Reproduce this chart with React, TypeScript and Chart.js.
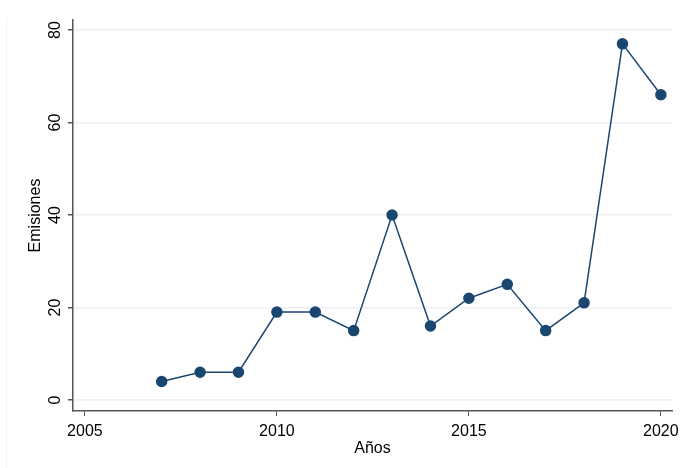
import React, { useEffect, useRef } from "react";
import { Chart, registerables } from "chart.js";

Chart.register(...registerables);

const years = [2007, 2008, 2009, 2010, 2011, 2012, 2013, 2014, 2015, 2016, 2017, 2018, 2019, 2020];
const emisiones = [4, 6, 6, 19, 19, 15, 40, 16, 22, 25, 15, 21, 77, 66];
const xTicks = [2005, 2010, 2015, 2020];
const yTicks = [0, 20, 40, 60, 80];
const xTitle = "Años";
const yTitle = "Emisiones";

const LINE = "#1a476f";
const FONT = "16px 'Liberation Sans', Arial, sans-serif";

const labelsPlugin = {
  id: "stataLabels",
  afterDraw(chart: any) {
    const ctx = chart.ctx;
    const xs = chart.scales.x;
    const ys = chart.scales.y;
    const area = chart.chartArea;
    ctx.save();
    // faint outer border
    ctx.strokeStyle = "#f3f3f3";
    ctx.lineWidth = 1;
    ctx.beginPath();
    ctx.moveTo(6.5, 17);
    ctx.lineTo(6.5, 468);
    ctx.stroke();

    ctx.fillStyle = "#000";
    ctx.font = FONT;
    // x tick labels
    ctx.textAlign = "center";
    ctx.textBaseline = "middle";
    xTicks.forEach((t) => {
      ctx.fillText(String(t), xs.getPixelForValue(t), 432);
    });
    // y tick labels rotated
    yTicks.forEach((t) => {
      const py = ys.getPixelForValue(t);
      ctx.save();
      ctx.translate(56, py);
      ctx.rotate(-Math.PI / 2);
      ctx.fillText(String(t), 0, 0);
      ctx.restore();
    });
    // axis titles
    ctx.fillText(xTitle, (area.left + area.right) / 2, 449);
    ctx.save();
    ctx.translate(36, (area.top + area.bottom) / 2);
    ctx.rotate(-Math.PI / 2);
    ctx.fillText(yTitle, 0, 0);
    ctx.restore();
    ctx.restore();
  },
};

export default function App() {
  const ref = useRef<HTMLCanvasElement | null>(null);
  useEffect(() => {
    if (!ref.current) return;
    const chart = new Chart(ref.current, {
      type: "line",
      data: {
        datasets: [
          {
            data: years.map((y, i) => ({ x: y, y: emisiones[i] })),
            borderColor: LINE,
            backgroundColor: LINE,
            borderWidth: 1.5,
            pointRadius: 5,
            pointBackgroundColor: LINE,
            pointBorderColor: LINE,
            tension: 0,
          },
        ],
      },
      options: {
        animation: false,
        responsive: false,
        maintainAspectRatio: false,
        layout: { padding: { left: 0, right: 14, top: 20, bottom: 0 } },
        plugins: { legend: { display: false }, tooltip: { enabled: false } },
        scales: {
          x: {
            type: "linear",
            min: 2004.69,
            max: 2020.29,
            afterFit: (s: any) => {
              s.height = 57;
            },
            afterBuildTicks: (s: any) => {
              s.ticks = xTicks.map((v) => ({ value: v }));
            },
            border: { display: true, color: "#555", width: 1.5 },
            grid: { drawOnChartArea: false, drawTicks: true, tickLength: 5, color: "#555", lineWidth: 1 },
            ticks: { color: "rgba(0,0,0,0)", font: { size: 16 } },
          },
          y: {
            type: "linear",
            min: -2.38,
            max: 82.16,
            afterFit: (s: any) => {
              s.width = 73;
            },
            afterBuildTicks: (s: any) => {
              s.ticks = yTicks.map((v) => ({ value: v }));
            },
            border: { display: true, color: "#555", width: 1.5 },
            grid: { drawOnChartArea: true, drawTicks: true, tickLength: 5, color: "#eaf0f3", tickColor: "#555", lineWidth: 1.5 },
            ticks: { color: "rgba(0,0,0,0)", font: { size: 16 } },
          },
        },
      },
      plugins: [labelsPlugin],
    });
    return () => chart.destroy();
  }, []);
  return (
    <div style={{ position: "fixed", left: 0, top: 0, width: 686, height: 468, background: "#fff" }}>
      <canvas ref={ref} width={686} height={468} style={{ width: 686, height: 468, display: "block" }} />
    </div>
  );
}
